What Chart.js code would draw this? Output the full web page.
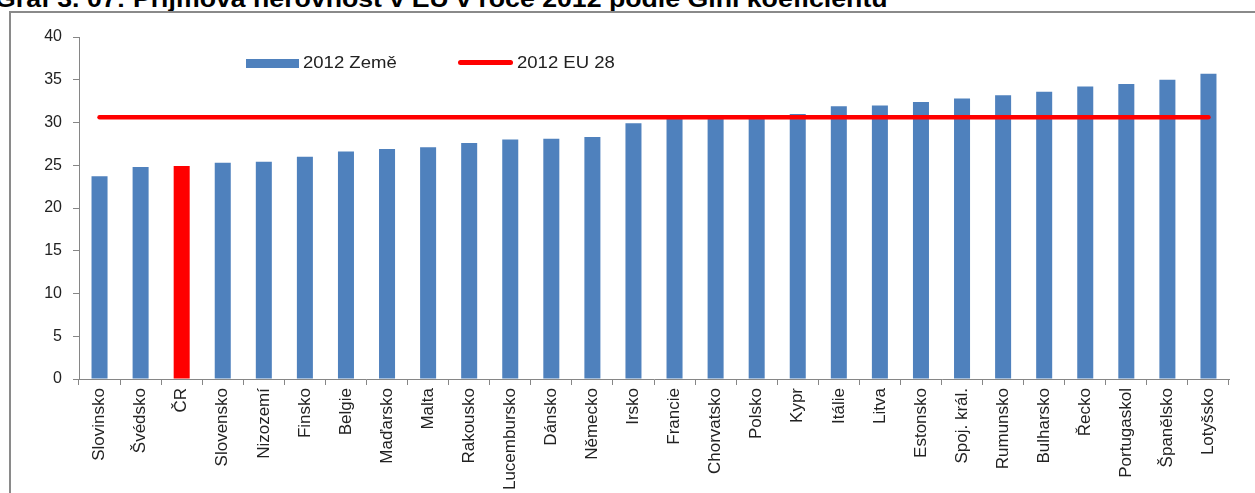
<!DOCTYPE html>
<html lang="cs">
<head>
<meta charset="utf-8">
<title>Příjmová nerovnost v EU v roce 2012</title>
<script src="https://cdn.jsdelivr.net/npm/chart.js@4.4.1/dist/chart.umd.min.js"></script>
<style>
  html, body { margin: 0; padding: 0; background: #fff; overflow: hidden; }
  body { width: 1255px; height: 493px; position: relative; font-family: 'Liberation Sans', Arial, sans-serif; }
  .title { position: absolute; left: -5px; top: -12px; font-size: 23px; line-height: 23px; font-weight: bold; color: #000;
           white-space: nowrap; transform: scaleX(1.16); transform-origin: left top; }
  .frame { position: absolute; left: 9px; top: 11px; width: 1400px; height: 600px; border-left: 2px solid #8a8a8a; border-top: 2px solid #8a8a8a; }
  .chart-box { position: absolute; left: 0; top: 0; width: 1255px; height: 493px; }
  .lg-bar { position: absolute; left: 246px; top: 59px; width: 53px; height: 9px; background: #4F81BD; }
  .lg-line { position: absolute; left: 458px; top: 60px; width: 55px; height: 5px; background: #FF0000; border-radius: 3px; }
  .lg-text { position: absolute; top: 53px; font-size: 17px; line-height: 19px; color: #222; white-space: nowrap;
             transform: scaleX(1.09); transform-origin: left top; }
</style>
</head>
<body>
<div class="title">Graf 3. 07: Příjmová nerovnost v EU v roce 2012 podle Gini koeficientu</div>
<div class="frame"></div>
<div class="chart-box"><canvas id="giniChart"></canvas></div>
<div class="lg-bar"></div><div class="lg-text" style="left:303px">2012 Země</div>
<div class="lg-line"></div><div class="lg-text" style="left:517px">2012 EU 28</div>

<script>
// Gini koeficient 2012, seřazeno vzestupně
const countries = ['Slovinsko', 'Švédsko', 'ČR', 'Slovensko', 'Nizozemí', 'Finsko', 'Belgie', 'Maďarsko', 'Malta',
  'Rakousko', 'Lucembursko', 'Dánsko', 'Německo', 'Irsko', 'Francie', 'Chorvatsko', 'Polsko', 'Kypr', 'Itálie',
  'Litva', 'Estonsko', 'Spoj. král.', 'Rumunsko', 'Bulharsko', 'Řecko', 'Portugaskol', 'Španělsko', 'Lotyšsko'];
const giniValues = [23.7, 24.8, 24.9, 25.3, 25.4, 26.0, 26.6, 26.9, 27.1,
  27.6, 28.0, 28.1, 28.3, 29.9, 30.5, 30.8, 30.8, 31.0, 31.9,
  32.0, 32.4, 32.8, 33.2, 33.6, 34.2, 34.5, 35.0, 35.7];
const eu28Values = [30.6, 30.6, 30.6, 30.6, 30.6, 30.6, 30.6, 30.6, 30.6,
  30.6, 30.6, 30.6, 30.6, 30.6, 30.6, 30.6, 30.6, 30.6, 30.6,
  30.6, 30.6, 30.6, 30.6, 30.6, 30.6, 30.6, 30.6, 30.6];
const yTicks = [0, 5, 10, 15, 20, 25, 30, 35, 40];

const BLUE = '#4F81BD';
const RED = '#FF0000';
const AXIS = '#868686';
const FONT = "'Liberation Sans', Arial, sans-serif";

const barColors = countries.map(c => c === 'ČR' ? RED : BLUE);

new Chart('giniChart', {
  type: 'bar',
  data: {
    labels: countries,
    datasets: [
      {
        type: 'line',
        label: '2012 EU 28',
        data: eu28Values,
        borderColor: RED,
        borderWidth: 4.5,
        borderCapStyle: 'round',
        pointRadius: 0,
        fill: false,
        order: 0
      },
      {
        label: '2012 Země',
        data: giniValues,
        backgroundColor: barColors,
        borderWidth: 0,
        barPercentage: 0.39,
        categoryPercentage: 1,
        order: 1
      }
    ]
  },
  options: {
    responsive: true,
    maintainAspectRatio: false,
    animation: false,
    layout: { padding: { top: 37, right: 26, left: 0, bottom: 0 } },
    plugins: {
      legend: { display: false },
      tooltip: { enabled: false }
    },
    scales: {
      x: {
        afterFit: s => { s.height = 114; },
        border: { color: AXIS, width: 1 },
        grid: { offset: true, drawOnChartArea: false, drawTicks: true, tickLength: 6, color: AXIS },
        ticks: {
          autoSkip: false, maxRotation: 90, minRotation: 90, padding: 3,
          color: '#222', font: { family: FONT, size: 17 }
        }
      },
      y: {
        min: 0,
        max: 40,
        afterFit: s => { s.width = 79; },
        afterBuildTicks: s => { s.ticks = yTicks.map(v => ({ value: v })); },
        border: { color: AXIS, width: 1 },
        grid: { drawOnChartArea: false, drawTicks: true, tickLength: 6, color: AXIS },
        ticks: { padding: 11, color: '#222', font: { family: FONT, size: 16 } }
      }
    }
  }
});
</script>
</body>
</html>
